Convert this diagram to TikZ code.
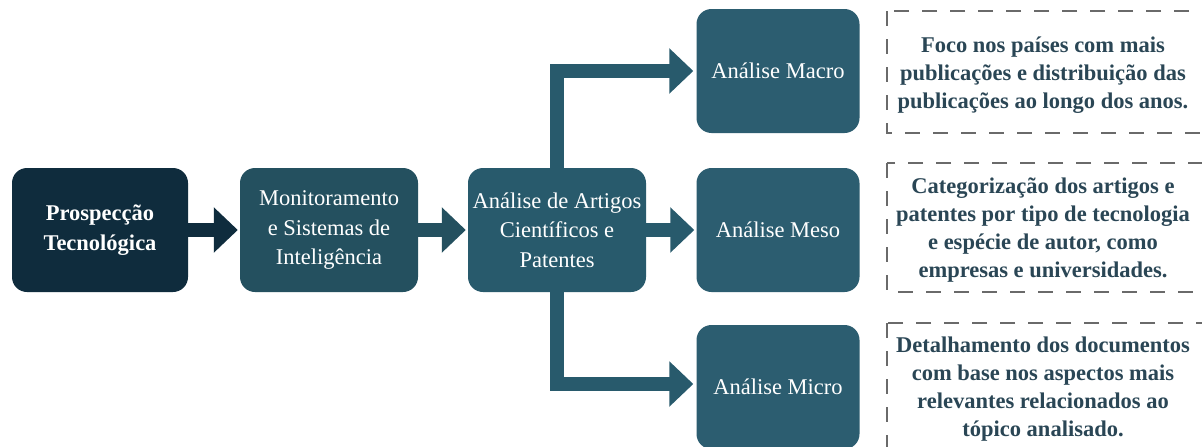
\documentclass[tikz,border=0pt]{standalone}
\usepackage{fontspec}
\setmainfont{Liberation Serif}
\usetikzlibrary{arrows.meta}
\definecolor{cnavy}{HTML}{0F2C3D}
\definecolor{cteal}{HTML}{24505F}
\definecolor{cteal2}{HTML}{285A6C}
\definecolor{cteal3}{HTML}{2C5D70}
\definecolor{ctext}{HTML}{2A4655}
\definecolor{cdash}{HTML}{6A6A6A}
\tikzset{
  box/.style={rectangle, rounded corners=15pt, text=white, align=center,
    font=\fontsize{22.5}{29.5}\selectfont, inner sep=2pt},
  fatarrow/.style={line width=14pt, line join=miter,
    -{Triangle[length=24pt,width=44pt]}},
  desc/.style={align=center, text=ctext, font=\fontsize{22.5}{28}\selectfont\bfseries, inner sep=0pt},
  dashbox/.style={draw=cdash, line width=1.1pt, dash pattern=on 15pt off 13pt},
}
\begin{document}
\begin{tikzpicture}[x=1pt,y=-1pt]
\useasboundingbox (0,0) rectangle (1202,447);
\clip (0,0) rectangle (1202,447);
\fill[white] (0,0) rectangle (1202,447);

\node[box, fill=cnavy, minimum width=176pt, minimum height=124pt, font=\fontsize{22.5}{29.5}\selectfont\bfseries] (b1) at (100,230) {Prospecção\\Tecnológica};
\node[box, fill=cteal, minimum width=178pt, minimum height=124pt] (b2) at (329,230) {Monitoramento\\e Sistemas de\\Inteligência};
\node[box, fill=cteal2, minimum width=178pt, minimum height=124pt] (b3) at (557,230) {Análise de Artigos\\Científicos e\\Patentes};
\node[box, fill=cteal3, minimum width=163pt, minimum height=124pt] (ma) at (778,71) {Análise Macro};
\node[box, fill=cteal3, minimum width=163pt, minimum height=124pt] (me) at (778,230) {Análise Meso};
\node[box, fill=cteal3, minimum width=163pt, minimum height=124pt] (mi) at (778,387) {Análise Micro};

\draw[fatarrow, cnavy, shorten >=2pt] (b1.east) -- (b2.west);
\draw[fatarrow, cteal, shorten >=2pt] (b2.east) -- (b3.west);
\draw[fatarrow, cteal2, shorten >=2pt] (b3.east) -- (me.west);
\draw[fatarrow, cteal2, shorten >=3pt] (b3.north) |- (ma.west);
\draw[fatarrow, cteal2, shorten >=3pt] (b3.south) |- ([yshift=3pt]mi.west);

\coordinate (d1a) at (887,11); \coordinate (d1b) at (1210,133);
\coordinate (d2a) at (887,163); \coordinate (d2b) at (1210,292);
\coordinate (d3a) at (887,323); \coordinate (d3b) at (1210,470);
\draw[dashbox] (d1a) rectangle (d1b);
\draw[dashbox] (d2a) rectangle (d2b);
\draw[dashbox] (d3a) rectangle (d3b);

\node[desc] (t1) at (1043,75) {Foco nos países com mais\\publicações e distribuição das\\publicações ao longo dos anos.};
\node[desc] (t2) at (1043,230) {Categorização dos artigos e\\patentes por tipo de tecnologia\\e espécie de autor, como\\empresas e universidades.};
\node[desc] (t3) at (1043,389) {Detalhamento dos documentos\\com base nos aspectos mais\\relevantes relacionados ao\\tópico analisado.};
\end{tikzpicture}
\end{document}
